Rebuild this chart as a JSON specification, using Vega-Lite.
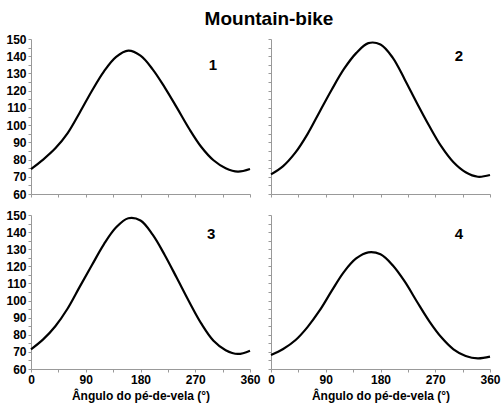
{
  "$schema": "https://vega.github.io/schema/vega-lite/v6.json",
  "background": "white",
  "padding": {"left": 5, "top": 10, "right": 9, "bottom": 5},
  "title": {"text": "Mountain-bike", "fontSize": 19, "font": "Liberation Sans", "fontWeight": "bold", "anchor": "middle", "offset": 4, "dx": 16, "color": "black"},
  "datasets": {
    "curves": [
      {"panel": 1, "angle": 0, "value": 74.5}, {"panel": 1, "angle": 20, "value": 80}, {"panel": 1, "angle": 40, "value": 86.5}, {"panel": 1, "angle": 60, "value": 95.2}, {"panel": 1, "angle": 80, "value": 107.2}, {"panel": 1, "angle": 100, "value": 119.8}, {"panel": 1, "angle": 120, "value": 131.2}, {"panel": 1, "angle": 140, "value": 139.6}, {"panel": 1, "angle": 160, "value": 143.2}, {"panel": 1, "angle": 180, "value": 140.3}, {"panel": 1, "angle": 200, "value": 132.4}, {"panel": 1, "angle": 220, "value": 121.8}, {"panel": 1, "angle": 240, "value": 110}, {"panel": 1, "angle": 260, "value": 97.9}, {"panel": 1, "angle": 280, "value": 87.3}, {"panel": 1, "angle": 300, "value": 79.6}, {"panel": 1, "angle": 320, "value": 75}, {"panel": 1, "angle": 340, "value": 73}, {"panel": 1, "angle": 360, "value": 74.5},
      {"panel": 2, "angle": 0, "value": 71.4}, {"panel": 2, "angle": 20, "value": 76.2}, {"panel": 2, "angle": 40, "value": 84}, {"panel": 2, "angle": 60, "value": 94.8}, {"panel": 2, "angle": 80, "value": 107.8}, {"panel": 2, "angle": 100, "value": 120.7}, {"panel": 2, "angle": 120, "value": 132.6}, {"panel": 2, "angle": 140, "value": 141.8}, {"panel": 2, "angle": 160, "value": 147.6}, {"panel": 2, "angle": 180, "value": 146.8}, {"panel": 2, "angle": 200, "value": 139.2}, {"panel": 2, "angle": 220, "value": 126.4}, {"panel": 2, "angle": 240, "value": 112.7}, {"panel": 2, "angle": 260, "value": 99.6}, {"panel": 2, "angle": 280, "value": 87.6}, {"panel": 2, "angle": 300, "value": 78.4}, {"panel": 2, "angle": 320, "value": 72.6}, {"panel": 2, "angle": 340, "value": 70}, {"panel": 2, "angle": 360, "value": 71},
      {"panel": 3, "angle": 0, "value": 71.5}, {"panel": 3, "angle": 20, "value": 77.3}, {"panel": 3, "angle": 40, "value": 85}, {"panel": 3, "angle": 60, "value": 95.2}, {"panel": 3, "angle": 80, "value": 108}, {"panel": 3, "angle": 100, "value": 120.6}, {"panel": 3, "angle": 120, "value": 133}, {"panel": 3, "angle": 140, "value": 142.8}, {"panel": 3, "angle": 160, "value": 148.1}, {"panel": 3, "angle": 180, "value": 146.8}, {"panel": 3, "angle": 200, "value": 138.5}, {"panel": 3, "angle": 220, "value": 126.5}, {"panel": 3, "angle": 240, "value": 113}, {"panel": 3, "angle": 260, "value": 99.3}, {"panel": 3, "angle": 280, "value": 86.5}, {"panel": 3, "angle": 300, "value": 76.5}, {"panel": 3, "angle": 320, "value": 71}, {"panel": 3, "angle": 340, "value": 68.8}, {"panel": 3, "angle": 360, "value": 70.7},
      {"panel": 4, "angle": 0, "value": 68.2}, {"panel": 4, "angle": 20, "value": 71.7}, {"panel": 4, "angle": 40, "value": 76.8}, {"panel": 4, "angle": 60, "value": 84.5}, {"panel": 4, "angle": 80, "value": 94.2}, {"panel": 4, "angle": 100, "value": 105.8}, {"panel": 4, "angle": 120, "value": 116.8}, {"panel": 4, "angle": 140, "value": 124.6}, {"panel": 4, "angle": 160, "value": 128.2}, {"panel": 4, "angle": 180, "value": 127}, {"panel": 4, "angle": 200, "value": 120.6}, {"panel": 4, "angle": 220, "value": 111}, {"panel": 4, "angle": 240, "value": 99.3}, {"panel": 4, "angle": 260, "value": 88}, {"panel": 4, "angle": 280, "value": 78.5}, {"panel": 4, "angle": 300, "value": 71.5}, {"panel": 4, "angle": 320, "value": 67.6}, {"panel": 4, "angle": 340, "value": 66.2}, {"panel": 4, "angle": 360, "value": 67.2}
    ],
    "labels": [
      {"panel": 1, "angle": 299, "value": 135, "label": "1"},
      {"panel": 2, "angle": 309, "value": 140, "label": "2"},
      {"panel": 3, "angle": 296, "value": 139, "label": "3"},
      {"panel": 4, "angle": 309, "value": 139, "label": "4"}
    ]
  },
  "columns": 2,
  "spacing": 21,
  "bounds": "flush",
  "concat": [
    {
      "width": 219, "height": 155,
      "encoding": {
        "x": {"field": "angle", "type": "quantitative", "scale": {"domain": [0, 360], "nice": false}, "axis": {"values": [0,45,90,135,180,225,270,315,360], "labels": false, "title": null}},
        "y": {"field": "value", "type": "quantitative", "scale": {"domain": [60, 150], "nice": false, "zero": false}, "axis": {"values": [60,65,70,75,80,85,90,95,100,105,110,115,120,125,130,135,140,145,150], "labelExpr": "datum.value % 10 == 0 ? datum.label : ''", "title": null}}
      },
      "layer": [
        {"data": {"name": "curves"}, "transform": [{"filter": "datum.panel == 1"}],
         "mark": {"type": "line", "interpolate": "catmull-rom", "color": "black", "strokeWidth": 2.2}},
        {"data": {"name": "labels"}, "transform": [{"filter": "datum.panel == 1"}],
         "mark": {"type": "text", "fontSize": 15, "fontWeight": "bold", "color": "black"},
         "encoding": {"text": {"field": "label"}}}
      ]
    },
    {
      "width": 219, "height": 155,
      "encoding": {
        "x": {"field": "angle", "type": "quantitative", "scale": {"domain": [0, 360], "nice": false}, "axis": {"values": [0,45,90,135,180,225,270,315,360], "labels": false, "title": null}},
        "y": {"field": "value", "type": "quantitative", "scale": {"domain": [60, 150], "nice": false, "zero": false}, "axis": {"values": [60,65,70,75,80,85,90,95,100,105,110,115,120,125,130,135,140,145,150], "labels": false, "title": null}}
      },
      "layer": [
        {"data": {"name": "curves"}, "transform": [{"filter": "datum.panel == 2"}],
         "mark": {"type": "line", "interpolate": "catmull-rom", "color": "black", "strokeWidth": 2.2}},
        {"data": {"name": "labels"}, "transform": [{"filter": "datum.panel == 2"}],
         "mark": {"type": "text", "fontSize": 15, "fontWeight": "bold", "color": "black"},
         "encoding": {"text": {"field": "label"}}}
      ]
    },
    {
      "width": 219, "height": 154,
      "encoding": {
        "x": {"field": "angle", "type": "quantitative", "scale": {"domain": [0, 360], "nice": false}, "axis": {"values": [0,45,90,135,180,225,270,315,360], "labelExpr": "datum.value % 90 == 0 ? datum.label : ''", "title": "Ângulo do pé-de-vela (°)"}},
        "y": {"field": "value", "type": "quantitative", "scale": {"domain": [60, 150], "nice": false, "zero": false}, "axis": {"values": [60,65,70,75,80,85,90,95,100,105,110,115,120,125,130,135,140,145,150], "labelExpr": "datum.value % 10 == 0 ? datum.label : ''", "title": null}}
      },
      "layer": [
        {"data": {"name": "curves"}, "transform": [{"filter": "datum.panel == 3"}],
         "mark": {"type": "line", "interpolate": "catmull-rom", "color": "black", "strokeWidth": 2.2}},
        {"data": {"name": "labels"}, "transform": [{"filter": "datum.panel == 3"}],
         "mark": {"type": "text", "fontSize": 15, "fontWeight": "bold", "color": "black"},
         "encoding": {"text": {"field": "label"}}}
      ]
    },
    {
      "width": 219, "height": 154,
      "encoding": {
        "x": {"field": "angle", "type": "quantitative", "scale": {"domain": [0, 360], "nice": false}, "axis": {"values": [0,45,90,135,180,225,270,315,360], "labelExpr": "datum.value % 90 == 0 ? datum.label : ''", "title": "Ângulo do pé-de-vela (°)"}},
        "y": {"field": "value", "type": "quantitative", "scale": {"domain": [60, 150], "nice": false, "zero": false}, "axis": {"values": [60,65,70,75,80,85,90,95,100,105,110,115,120,125,130,135,140,145,150], "labels": false, "title": null}}
      },
      "layer": [
        {"data": {"name": "curves"}, "transform": [{"filter": "datum.panel == 4"}],
         "mark": {"type": "line", "interpolate": "catmull-rom", "color": "black", "strokeWidth": 2.2}},
        {"data": {"name": "labels"}, "transform": [{"filter": "datum.panel == 4"}],
         "mark": {"type": "text", "fontSize": 15, "fontWeight": "bold", "color": "black"},
         "encoding": {"text": {"field": "label"}}}
      ]
    }
  ],
  "config": {
    "font": "Liberation Sans",
    "view": {"stroke": null},
    "axis": {
      "grid": false,
      "domainColor": "#999999",
      "tickColor": "#999999",
      "tickSize": 3,
      "labelFont": "Liberation Sans",
      "labelFontSize": 12,
      "labelFontWeight": "bold",
      "labelColor": "black",
      "labelPadding": 2,
      "labelFlush": false,
      "labelOverlap": false,
      "titleFont": "Liberation Sans",
      "titleFontSize": 12,
      "titleFontWeight": "bold",
      "titleColor": "black",
      "titlePadding": 5
    }
  }
}
